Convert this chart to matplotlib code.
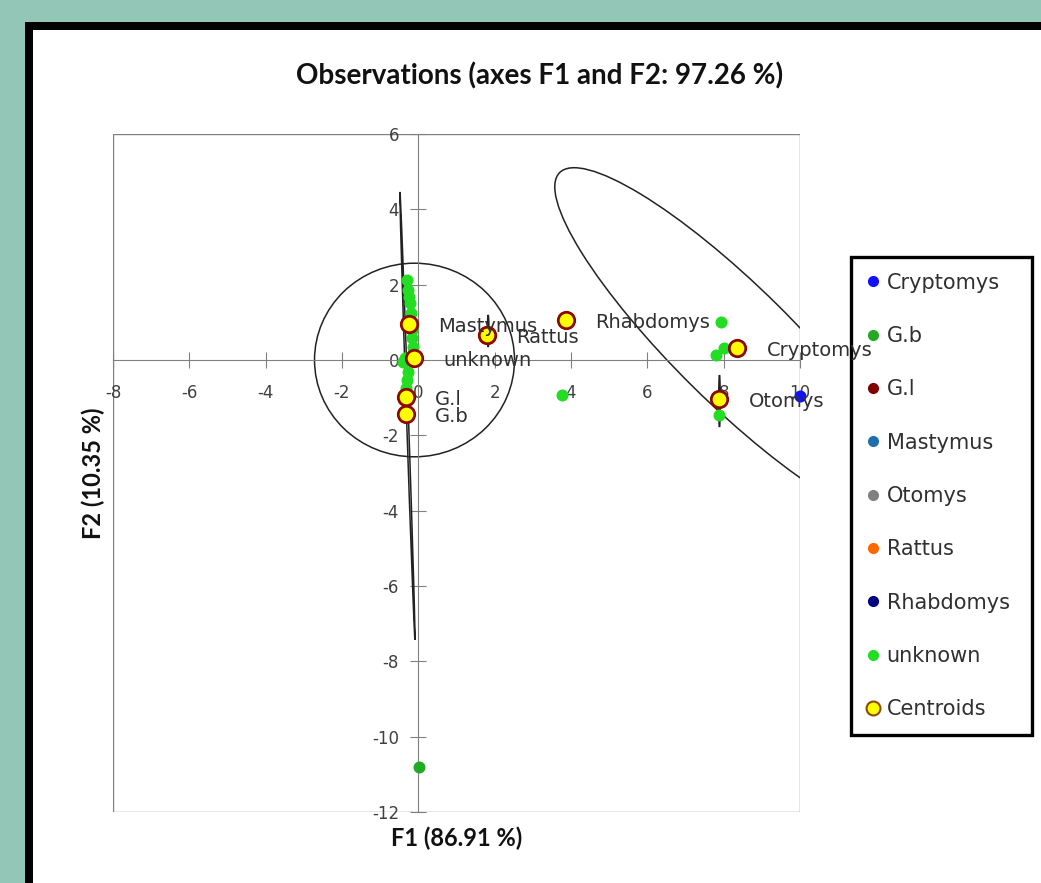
import matplotlib
matplotlib.use("Agg")
import matplotlib.pyplot as plt
from matplotlib.patches import Ellipse, Rectangle

plt.rcParams["axes.unicode_minus"] = False

# observations (F1, F2) by group
unknown_x = [-0.30, -0.27, -0.25, -0.22, -0.20, -0.20, -0.17, -0.17, -0.14, -0.35, -0.41,
             -0.27, -0.30, -0.33, 3.76, 7.92, 8.00, 7.81, 7.89]
unknown_y = [2.12, 1.86, 1.67, 1.51, 1.25, 1.01, 0.80, 0.58, 0.34, 0.05, -0.05,
             -0.32, -0.53, -0.74, -0.93, 1.00, 0.32, 0.13, -1.46]
gb_x = [0.01]
gb_y = [-10.8]
crypto_x = [9.99]
crypto_y = [-0.95]
rattus_x = [1.79]
rattus_y = [0.66]

# centroids
cent_names = ["Mastymus", "Rattus", "Rhabdomys", "Cryptomys", "Otomys", "unknown", "G.l", "G.b"]
cent_x = [-0.25, 1.79, 3.86, 8.36, 7.89, -0.12, -0.33, -0.33]
cent_y = [0.95, 0.66, 1.06, 0.32, -1.03, 0.05, -0.98, -1.43]

# confidence ellipses: center, width, height, angle
ell_cx = [-0.10, -0.285, 8.30, 1.83, 7.89]
ell_cy = [0.00, -1.485, 0.38, 0.77, -1.09]
ell_w = [5.24, 11.9, 13.0, 0.04, 0.04]
ell_h = [5.14, 0.05, 3.1, 0.85, 1.38]
ell_ang = [0, -88.1, 135, 0, 0]

legend_names = ["Cryptomys", "G.b", "G.l", "Mastymus", "Otomys", "Rattus", "Rhabdomys", "unknown"]
legend_colors = ["#1010FF", "#22AA22", "#800000", "#1F6FAF", "#808080", "#FF6600", "#000080", "#22DD22"]

xticks = [-8, -6, -4, -2, 0, 2, 4, 6, 8, 10]
yticks = [-12, -10, -8, -6, -4, -2, 0, 2, 4, 6]

W, H = 1041, 883
fig = plt.figure(figsize=(W / 100, H / 100), dpi=100)
fig.patch.set_facecolor("#93C6B6")
fig.add_artist(Rectangle((25 / W, -0.1), 1.2, 1 - 22 / H + 0.1, transform=fig.transFigure,
                         facecolor="black", edgecolor="none", zorder=-2))
fig.add_artist(Rectangle((33 / W, -0.1), 1.2, 1 - 30 / H + 0.1, transform=fig.transFigure,
                         facecolor="white", edgecolor="none", zorder=-1))

ax = fig.add_axes([113 / W, 1 - 812 / H, 687 / W, 678 / H])
ax.set_facecolor("none")
ax.set_xlim(-8, 10)
ax.set_ylim(-12, 6)

for s in ["top", "right"]:
    ax.spines[s].set_visible(False)
ax.spines["left"].set_position("zero")
ax.spines["bottom"].set_position("zero")
ax.spines["left"].set_color("#808080")
ax.spines["bottom"].set_color("#808080")
ax.add_patch(Rectangle((0, 0), 1, 1, transform=ax.transAxes, fill=False,
                       edgecolor="#808080", lw=1, zorder=0))
ax.set_xticks(xticks)
ax.set_yticks(yticks)
ax.tick_params(direction="inout", length=12, color="#808080", labelsize=12,
               labelcolor="#404040")
ax.tick_params(axis="x", pad=11)
ax.tick_params(axis="y", pad=8)

for cx, cy, w, h, a in zip(ell_cx, ell_cy, ell_w, ell_h, ell_ang):
    ax.add_patch(Ellipse((cx, cy), w, h, angle=a, fill=False, edgecolor="#222222", lw=1.1, zorder=2))

ax.scatter(unknown_x, unknown_y, s=75, color=legend_colors[7], zorder=3, linewidths=0)
ax.scatter(gb_x, gb_y, s=75, color=legend_colors[1], zorder=3, linewidths=0)
ax.scatter(crypto_x, crypto_y, s=75, color=legend_colors[0], zorder=3, linewidths=0, clip_on=False)
ax.scatter(rattus_x, rattus_y, s=190, color=legend_colors[5], zorder=3, linewidths=0)
ax.scatter(cent_x, cent_y, s=140, color="#FFFF00", edgecolors="#8B0A00", linewidths=2, zorder=4)

for name, x, y in zip(cent_names, cent_x, cent_y):
    ax.annotate(name, (x, y), xytext=(21, -2), textcoords="offset points", va="center",
                ha="left", fontsize=14, color="#303030", zorder=7)

handles = []
for name, c in zip(legend_names, legend_colors):
    handles.append(plt.Line2D([], [], ls="none", marker="o", ms=7, color=c, label=name))
handles.append(plt.Line2D([], [], ls="none", marker="o", ms=10, markerfacecolor="#FFFF00",
                          markeredgecolor="#8B4A00", markeredgewidth=1.5, label="Centroids"))
leg = ax.legend(handles=handles, loc="upper left", bbox_to_anchor=(851 / W, 1 - 257 / H, 181 / W, 0),
                mode="expand", bbox_transform=fig.transFigure, borderaxespad=0, frameon=True,
                fancybox=False, edgecolor="black", framealpha=1, fontsize=15, labelspacing=1.6,
                handletextpad=0.36, handlelength=0.6, borderpad=0.75, labelcolor="#303030")
leg.get_frame().set_linewidth(2.4)
leg.set_zorder(6)

fig.text(540 / W, 1 - 76 / H, "Observations (axes F1 and F2: 97.26 %)", ha="center", va="center",
         fontsize=20, fontweight="bold", family="Lato", color="#111111")
fig.text(457 / W, 1 - 838 / H, "F1 (86.91 %)", ha="center", va="center",
         fontsize=17, fontweight="bold", family="Lato", color="#111111")
fig.text(93 / W, 1 - 473 / H, "F2 (10.35 %)", ha="center", va="center", rotation=90,
         fontsize=17, fontweight="bold", family="Lato", color="#111111")

fig.savefig("out.png", dpi=100)
